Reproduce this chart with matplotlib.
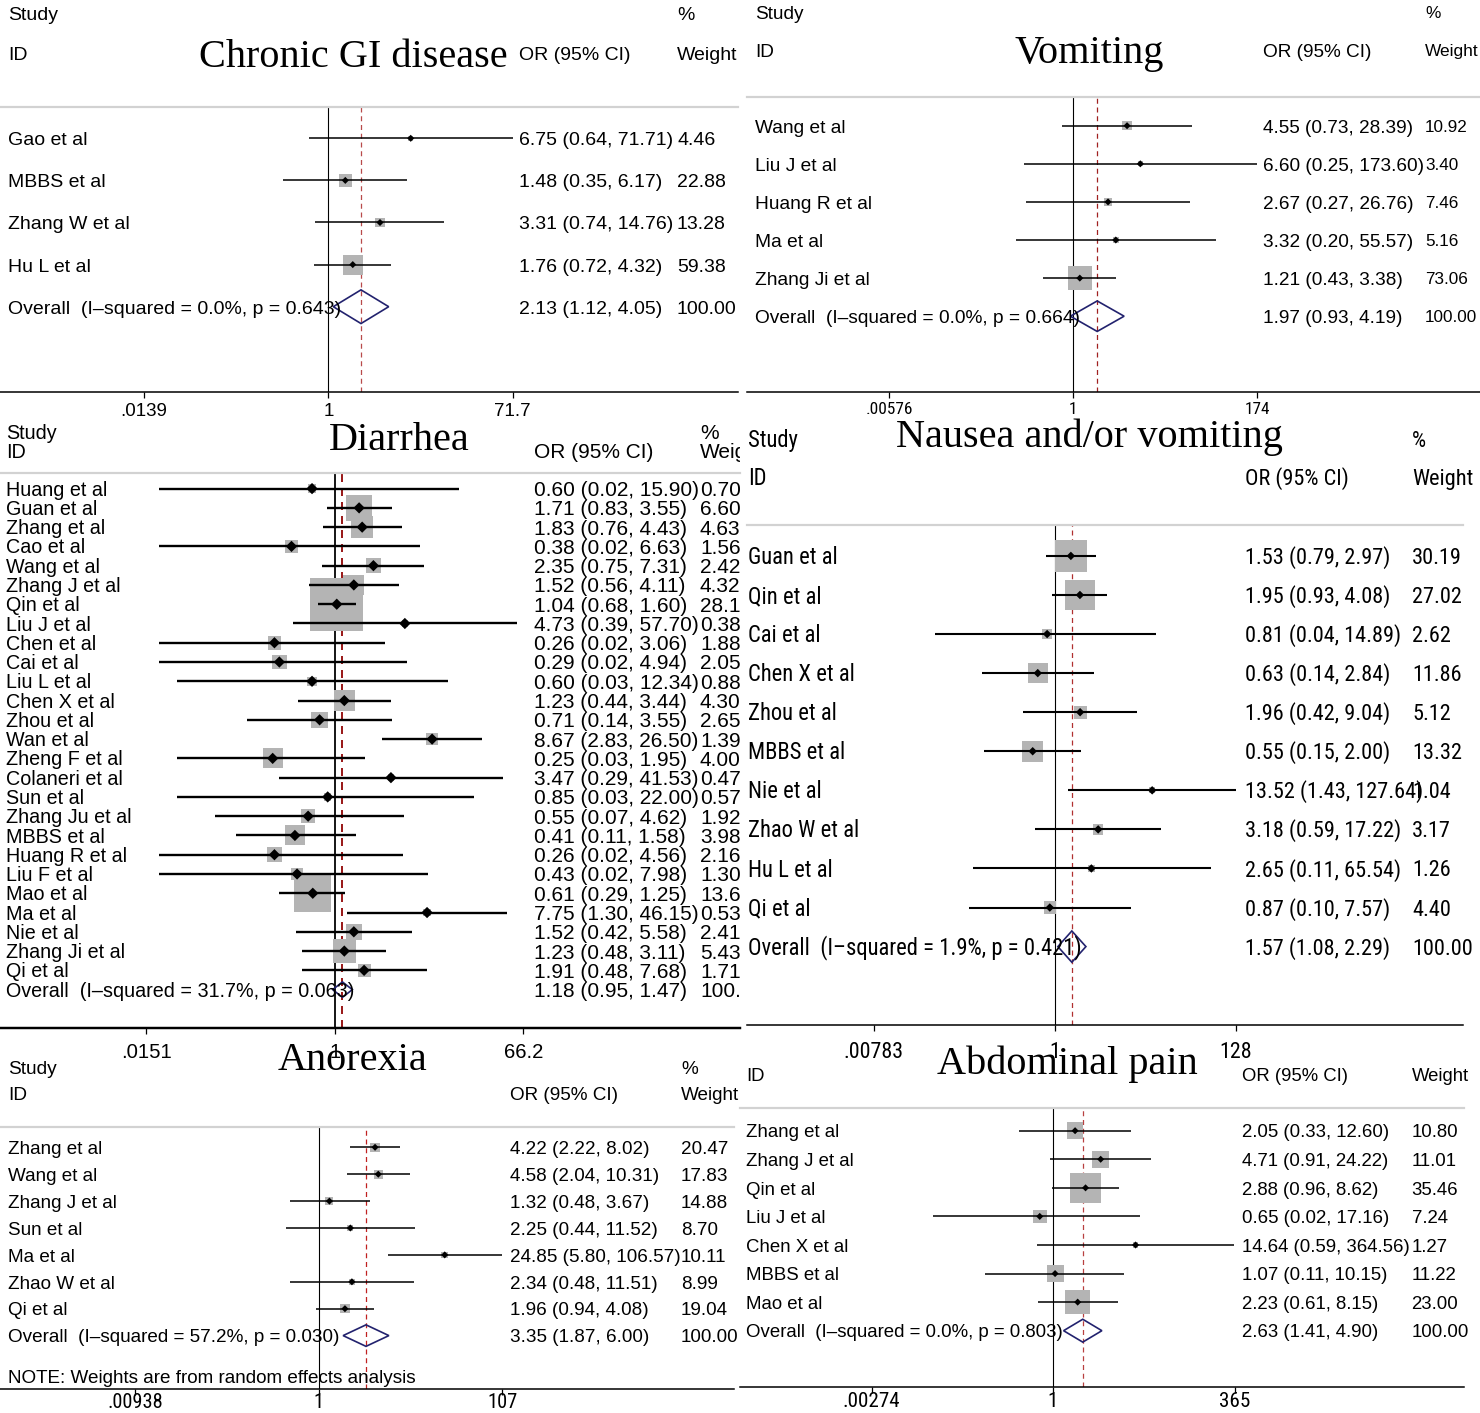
import numpy as np
import matplotlib
matplotlib.use("Agg")
import matplotlib.pyplot as plt
from matplotlib import font_manager as fm
from matplotlib.font_manager import FontProperties
from matplotlib.textpath import TextPath
from matplotlib.patches import Polygon
from matplotlib.ticker import NullLocator
from matplotlib.transforms import (blended_transform_factory, ScaledTranslation,
                                   Bbox, TransformedBbox)

# ---------------------------------------------------------------- data
gi_studies = ["Gao et al", "MBBS et al", "Zhang W et al", "Hu L et al"]
gi_or = [6.75, 1.48, 3.31, 1.76]
gi_lo = [0.64, 0.35, 0.74, 0.72]
gi_hi = [71.71, 6.17, 14.76, 4.32]
gi_w = [4.46, 22.88, 13.28, 59.38]
gi_overall = [2.13, 1.12, 4.05]
gi_het = ["0.0%", "0.643"]
gi_ticks = [0.0139, 1, 71.7]
gi_ticklabels = [".0139", "1", "71.7"]

vo_studies = ["Wang et al", "Liu J et al", "Huang R et al", "Ma et al", "Zhang Ji et al"]
vo_or = [4.55, 6.60, 2.67, 3.32, 1.21]
vo_lo = [0.73, 0.25, 0.27, 0.20, 0.43]
vo_hi = [28.39, 173.60, 26.76, 55.57, 3.38]
vo_w = [10.92, 3.40, 7.46, 5.16, 73.06]
vo_overall = [1.97, 0.93, 4.19]
vo_het = ["0.0%", "0.664"]
vo_ticks = [0.00576, 1, 174]
vo_ticklabels = [".00576", "1", "174"]

di_studies = ["Huang et al", "Guan et al", "Zhang et al", "Cao et al", "Wang et al",
              "Zhang J et al", "Qin et al", "Liu J et al", "Chen et al", "Cai et al",
              "Liu L et al", "Chen X et al", "Zhou et al", "Wan et al", "Zheng F et al",
              "Colaneri et al", "Sun et al", "Zhang Ju et al", "MBBS et al",
              "Huang R et al", "Liu F et al", "Mao et al", "Ma et al", "Nie et al",
              "Zhang Ji et al", "Qi et al"]
di_or = [0.60, 1.71, 1.83, 0.38, 2.35, 1.52, 1.04, 4.73, 0.26, 0.29, 0.60, 1.23, 0.71,
         8.67, 0.25, 3.47, 0.85, 0.55, 0.41, 0.26, 0.43, 0.61, 7.75, 1.52, 1.23, 1.91]
di_lo = [0.02, 0.83, 0.76, 0.02, 0.75, 0.56, 0.68, 0.39, 0.02, 0.02, 0.03, 0.44, 0.14,
         2.83, 0.03, 0.29, 0.03, 0.07, 0.11, 0.02, 0.02, 0.29, 1.30, 0.42, 0.48, 0.48]
di_hi = [15.90, 3.55, 4.43, 6.63, 7.31, 4.11, 1.60, 57.70, 3.06, 4.94, 12.34, 3.44, 3.55,
         26.50, 1.95, 41.53, 22.00, 4.62, 1.58, 4.56, 7.98, 1.25, 46.15, 5.58, 3.11, 7.68]
di_w = [0.70, 6.60, 4.63, 1.56, 2.42, 4.32, 28.14, 0.38, 1.88, 2.05, 0.88, 4.30, 2.65,
        1.39, 4.00, 0.47, 0.57, 1.92, 3.98, 2.16, 1.30, 13.62, 0.53, 2.41, 5.43, 1.71]
di_overall = [1.18, 0.95, 1.47]
di_het = ["31.7%", "0.063"]
di_ticks = [0.0151, 1, 66.2]
di_ticklabels = [".0151", "1", "66.2"]

nv_studies = ["Guan et al", "Qin et al", "Cai et al", "Chen X et al", "Zhou et al",
              "MBBS et al", "Nie et al", "Zhao W et al", "Hu L et al", "Qi et al"]
nv_or = [1.53, 1.95, 0.81, 0.63, 1.96, 0.55, 13.52, 3.18, 2.65, 0.87]
nv_lo = [0.79, 0.93, 0.04, 0.14, 0.42, 0.15, 1.43, 0.59, 0.11, 0.10]
nv_hi = [2.97, 4.08, 14.89, 2.84, 9.04, 2.00, 127.64, 17.22, 65.54, 7.57]
nv_w = [30.19, 27.02, 2.62, 11.86, 5.12, 13.32, 1.04, 3.17, 1.26, 4.40]
nv_overall = [1.57, 1.08, 2.29]
nv_het = ["1.9%", "0.421"]
nv_ticks = [0.00783, 1, 128]
nv_ticklabels = [".00783", "1", "128"]

an_studies = ["Zhang et al", "Wang et al", "Zhang J et al", "Sun et al", "Ma et al",
              "Zhao W et al", "Qi et al"]
an_or = [4.22, 4.58, 1.32, 2.25, 24.85, 2.34, 1.96]
an_lo = [2.22, 2.04, 0.48, 0.44, 5.80, 0.48, 0.94]
an_hi = [8.02, 10.31, 3.67, 11.52, 106.57, 11.51, 4.08]
an_w = [20.47, 17.83, 14.88, 8.70, 10.11, 8.99, 19.04]
an_overall = [3.35, 1.87, 6.00]
an_het = ["57.2%", "0.030"]
an_ticks = [0.00938, 1, 107]
an_ticklabels = [".00938", "1", "107"]

ab_studies = ["Zhang et al", "Zhang J et al", "Qin et al", "Liu J et al", "Chen X et al",
              "MBBS et al", "Mao et al"]
ab_or = [2.05, 4.71, 2.88, 0.65, 14.64, 1.07, 2.23]
ab_lo = [0.33, 0.91, 0.96, 0.02, 0.59, 0.11, 0.61]
ab_hi = [12.60, 24.22, 8.62, 17.16, 364.56, 10.15, 8.15]
ab_w = [10.80, 11.01, 35.46, 7.24, 1.27, 11.22, 23.00]
ab_overall = [2.63, 1.41, 4.90]
ab_het = ["0.0%", "0.803"]
ab_ticks = [0.00274, 1, 365]
ab_ticklabels = [".00274", "1", "365"]

note_text = "NOTE: Weights are from random effects analysis"

# ---------------------------------------------------------------- fonts
W, H, DPI = 1480, 1413, 100
avail = {f.name for f in fm.fontManager.ttflist}
SANS = "Liberation Sans" if "Liberation Sans" in avail else "DejaVu Sans"
SERIF = "Liberation Serif" if "Liberation Serif" in avail else "DejaVu Serif"


def find_narrow():
    prefs = ["Liberation Sans Narrow", "Roboto Condensed", "Arial Narrow",
             "Open Sans Condensed", "Noto Sans Condensed", "DejaVu Sans Condensed"]
    bad = ("Bold", "Italic", "Oblique", "Light", "Thin", "Medium", "Black", "Semi",
           "Extra", "Mono", "Serif")
    cands = []
    for f in fm.fontManager.ttflist:
        if f.style != "normal":
            continue
        wt = f.weight
        if isinstance(wt, str):
            wt = fm.weight_dict.get(wt, 400)
        if wt != 400:
            continue
        base = f.fname.split("/")[-1]
        label = f.name + " " + base
        if any(b in label for b in bad):
            continue
        narrow = ("Narrow" in label or "Condensed" in label or
                  str(f.stretch) in ("condensed", "semi-condensed"))
        if not narrow:
            continue
        rank = next((i for i, p in enumerate(prefs) if p in f.name), len(prefs))
        cands.append((rank, f.fname))
    if not cands:
        return None
    cands.sort()
    return cands[0][1]


def text_width(s, prop):
    return TextPath((0, 0), s, size=10, prop=prop).get_extents().width


SAMPLE = "Overall (I-squared = 1.9%, p = 0.421) 13.52 (1.43, 127.64) Guan et al"
_nf = find_narrow()
if _nf is not None:
    try:
        NF = text_width(SAMPLE, FontProperties(fname=_nf)) / \
            text_width(SAMPLE, FontProperties(family=SANS))
        if not (0.5 < NF < 0.97):
            _nf, NF = None, 1.0
    except Exception:
        _nf, NF = None, 1.0
else:
    NF = 1.0


def fprop(size, narrow=False):
    """size is given as the Arial-equivalent (width matching) size."""
    if narrow and _nf is not None:
        return FontProperties(fname=_nf, size=size / NF)
    return FontProperties(family=SANS, size=size)


fig = plt.figure(figsize=(W / DPI, H / DPI), dpi=DPI)
fig.patch.set_facecolor("white")

BOX_GREY = "#b4b4b4"
DIAMOND = "#22226e"

panels = [
    dict(title="Chronic GI disease", st=gi_studies, o=gi_or, lo=gi_lo, hi=gi_hi, w=gi_w,
         ov=gi_overall, het=gi_het, tv=gi_ticks, tl=gi_ticklabels,
         box=(0, 738, 107, 392), tpx=(144.5, 328.4, 513), rows=(138.3, 42.1),
         col=(0, 740), cx=(8, 519, 677), fs=(14, 14, 14), narrow=False,
         tfs=13.5, tnarrow=False, tpad=5, k=2.6, ptpx=5, cilw=1.1, lws=1.0,
         red="#b84a4a",
         hdr=[("Study", 8, 12.7, 14), ("ID", 8, 53, 14), ("%", 677, 12.7, 14),
              ("Weight", 677, 53, 14), ("OR (95% CI)", 519, 53, 14)],
         ttl=(353, 66.7)),
    dict(title="Vomiting", st=vo_studies, o=vo_or, lo=vo_lo, hi=vo_hi, w=vo_w,
         ov=vo_overall, het=vo_het, tv=vo_ticks, tl=vo_ticklabels,
         box=(747, 1480, 97, 392), tpx=(889, 1073, 1257), rows=(125.7, 38.1),
         col=(740, 1480), cx=(755, 1263, 1425), fs=(13.8, 13.7, 12.3), narrow=False,
         tfs=10.8, tnarrow=True, tpad=4, k=2.8, ptpx=5, cilw=1.1, lws=1.0,
         red="#a02020",
         hdr=[("Study", 755, 12.3, 13.7), ("ID", 755, 50, 13.7), ("%", 1425, 12.3, 12.4),
              ("Weight", 1425, 50, 12.4), ("OR (95% CI)", 1263, 50, 13.7)],
         ttl=(1089, 62.7)),
    dict(title="Diarrhea", st=di_studies, o=di_or, lo=di_lo, hi=di_hi, w=di_w,
         ov=di_overall, het=di_het, tv=di_ticks, tl=di_ticklabels,
         box=(0, 740, 473, 1028), tpx=(146, 335, 523), rows=(488.6, 19.27),
         col=(0, 740), cx=(6, 534, 700), fs=(14.2, 15, 15), narrow=False,
         tfs=14.6, tnarrow=False, tpad=8.7, k=10.0, ptpx=8, cilw=1.7, lws=1.6,
         red="#9b1c1c",
         hdr=[("Study", 6, 432, 14.2), ("ID", 6, 450.5, 14.2), ("%", 700, 432, 15),
              ("Weight", 700, 450.5, 15), ("OR (95% CI)", 534, 450.5, 15)],
         ttl=(399, 450)),
    dict(title="Nausea and/or vomiting", st=nv_studies, o=nv_or, lo=nv_lo, hi=nv_hi,
         w=nv_w, ov=nv_overall, het=nv_het, tv=nv_ticks, tl=nv_ticklabels,
         box=(747, 1463, 525, 1025), tpx=(874, 1055, 1236), rows=(555.9, 39.07),
         col=(740, 1480), cx=(748, 1244.7, 1412), fs=(14.1, 13.9, 13.9), narrow=True,
         tfs=13.7, tnarrow=True, tpad=11, k=5.8, ptpx=6, cilw=1.5, lws=1.0,
         red="#b03030",
         hdr=[("Study", 748, 439, 14.1), ("ID", 748, 477, 14.1), ("%", 1412, 439, 14),
              ("Weight", 1412, 477, 14), ("OR (95% CI)", 1244.7, 477, 14)],
         ttl=(1089, 447)),
    dict(title="Anorexia", st=an_studies, o=an_or, lo=an_lo, hi=an_hi, w=an_w,
         ov=an_overall, het=an_het, tv=an_ticks, tl=an_ticklabels,
         box=(0, 734, 1127, 1389), tpx=(135, 318.5, 502), rows=(1147.3, 26.9),
         col=(0, 740), cx=(8, 510, 681), fs=(13.6, 13.6, 13.6), narrow=False,
         tfs=12.8, tnarrow=True, tpad=-2, k=2.1, ptpx=5, cilw=1.1, lws=1.0,
         red="#c02020",
         hdr=[("Study", 8, 1067, 13.8), ("ID", 8, 1093, 13.8), ("%", 681, 1067, 13.6),
              ("Weight", 681, 1093, 13.6), ("OR (95% CI)", 510, 1093, 13.6)],
         ttl=(353, 1070), note=(8, 1376)),
    dict(title="Abdominal pain", st=ab_studies, o=ab_or, lo=ab_lo, hi=ab_hi, w=ab_w,
         ov=ab_overall, het=ab_het, tv=ab_ticks, tl=ab_ticklabels,
         box=(740, 1464, 1108, 1387), tpx=(871, 1053, 1234), rows=(1130.7, 28.57),
         col=(740, 1480), cx=(746, 1242, 1411.6), fs=(13.4, 13.4, 13.4), narrow=False,
         tfs=13.2, tnarrow=True, tpad=-1, k=5.1, ptpx=5, cilw=1.1, lws=1.0,
         red="#b84040",
         hdr=[("ID", 746, 1074.5, 13.3), ("OR (95% CI)", 1242, 1074.5, 13.3),
              ("Weight", 1411.6, 1074.5, 13.3)],
         ttl=(1067, 1074)),
]


def col_clip(c0, c1):
    return TransformedBbox(Bbox([[c0 / W, 0], [c1 / W, 1]]), fig.transFigure)


def put(x, y, s, prop, transform, clip, va_off=True, ha="left"):
    tr = transform
    if va_off:
        tr = transform + ScaledTranslation(0, -0.358 * prop.get_size_in_points() / 72,
                                           fig.dpi_scale_trans)
    t = fig.text(x, y, s, fontproperties=prop, transform=tr, va="baseline", ha=ha,
                 color="black")
    t.set_clip_box(clip)
    t.set_clip_on(True)
    return t


for P in panels:
    L, R, T, B = P["box"]
    ax = fig.add_axes([L / W, 1 - B / H, (R - L) / W, (B - T) / H])
    ax.patch.set_alpha(0)
    lo_t, _, hi_t = P["tv"]
    plo, p1, phi = P["tpx"]
    b = (phi - plo) / (np.log(hi_t) - np.log(lo_t))
    ax.set_xscale("log")
    ax.set_xlim(np.exp((L - p1) / b), np.exp((R - p1) / b))
    r0, dr = P["rows"]
    ax.set_ylim((B - r0) / dr, (T - r0) / dr)

    for s in ("left", "right"):
        ax.spines[s].set_visible(False)
    ax.spines["top"].set_color("#d2d2d2")
    ax.spines["top"].set_linewidth(1.6)
    ax.spines["bottom"].set_color("black")
    ax.spines["bottom"].set_linewidth(1.1 * P["lws"])
    ax.set_yticks([])
    ax.set_xticks(P["tv"])
    ax.set_xticklabels(P["tl"])
    ax.xaxis.set_minor_locator(NullLocator())
    ax.tick_params(axis="x", direction="out", length=6 * 0.72, width=0.9,
                   pad=P["tpad"] * 0.72, colors="black")
    tprop = fprop(P["tfs"], P["tnarrow"])
    for lab in ax.get_xticklabels():
        lab.set_fontproperties(tprop)

    n = len(P["st"])
    ys = np.arange(n)
    o = np.array(P["o"]); lo = np.array(P["lo"]); hi = np.array(P["hi"])
    w = np.array(P["w"])

    ax.axvline(1, color="black", lw=0.8 * P["lws"], zorder=1)
    ax.axvline(P["ov"][0], color=P["red"], lw=0.9 * P["lws"], ls=(0, (4, 3)), zorder=1)

    ax.scatter(o, ys, s=(P["k"] * np.sqrt(w) * 0.72) ** 2, marker="s", color=BOX_GREY,
               edgecolors="none", zorder=2)
    ax.hlines(ys, lo, hi, color="black", lw=P["cilw"], zorder=3)
    ax.scatter(o, ys, s=(P["ptpx"] * 0.72) ** 2, marker="D", color="black",
               edgecolors="none", zorder=4)
    est, olo, ohi = P["ov"]
    ax.add_patch(Polygon([[olo, n], [est, n - 0.4], [ohi, n], [est, n + 0.4]],
                         closed=True, fill=False, edgecolor=DIAMOND, lw=1.2, zorder=4))

    # texts
    clip = col_clip(*P["col"])
    nfs, vfs, wfs = P["fs"]
    nprop = fprop(nfs, P["narrow"])
    vprop = fprop(vfs, P["narrow"])
    wprop = fprop(wfs, P["narrow"])
    rtr = blended_transform_factory(fig.transFigure, ax.transData)
    xn, xo, xw = P["cx"]
    labels = list(P["st"]) + ["Overall  (I\u2013squared = %s, p = %s)" % tuple(P["het"])]
    ovals = list(o) + [est]
    lvals = list(lo) + [olo]
    hvals = list(hi) + [ohi]
    wtxt = ["%.2f" % v for v in w] + ["100.00"]
    for i, lab in enumerate(labels):
        put(xn / W, i, lab, nprop, rtr, clip)
        put(xo / W, i, "%.2f (%.2f, %.2f)" % (ovals[i], lvals[i], hvals[i]),
            vprop, rtr, clip)
        put(xw / W, i, wtxt[i], wprop, rtr, clip)

    for txt, hx, hy, hfs in P["hdr"]:
        put(hx / W, 1 - hy / H, txt, fprop(hfs, P["narrow"]), fig.transFigure, clip)

    tx, ty = P["ttl"]
    put(tx / W, 1 - ty / H, P["title"], FontProperties(family=SERIF, size=29),
        fig.transFigure, clip, va_off=False, ha="center")

    if "note" in P:
        nx, ny = P["note"]
        put(nx / W, 1 - ny / H, note_text, fprop(13.6), fig.transFigure, clip)

fig.savefig("out.png", dpi=DPI, facecolor="white")
